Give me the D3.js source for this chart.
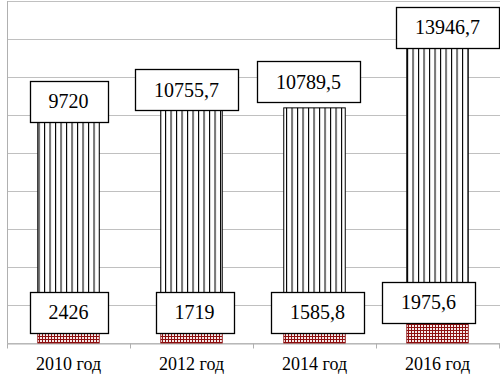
<!DOCTYPE html>
<html>
<head>
<meta charset="utf-8">
<script src="https://cdn.jsdelivr.net/npm/d3@7"></script>
<style>
  html, body { margin: 0; padding: 0; background: #fff; }
  svg { display: block; }
</style>
</head>
<body>
<div id="chart"></div>
<script>
// данные
const categories = ["2010 год", "2012 год", "2014 год", "2016 год"];
const lowerValues = [2426, 1719, 1585.8, 1975.6];
const upperValues = [9720, 10755.7, 10789.5, 13946.7];
const lowerLabels = ["2426", "1719", "1585,8", "1975,6"];
const upperLabels = ["9720", "10755,7", "10789,5", "13946,7"];
const yTicks = d3.range(0, 18001, 2000);

// ручные сдвиги подписей (как в исходной диаграмме)
const upperShift = [[0, -11], [-5, -16], [-6, -26], [10, -13]];
const lowerShift = [[0, 0], [3, 0], [3, 0], [-9, -10]];

const W = 500, H = 375;
const margin = {top: 1, right: 1, bottom: 32, left: 7};

const svg = d3.select("#chart").append("svg")
  .attr("width", W).attr("height", H);

const defs = svg.append("defs");
// вертикальная штриховка
const pv = defs.append("pattern")
  .attr("id", "vlines").attr("patternUnits", "userSpaceOnUse")
  .attr("width", 5.5).attr("height", 10);
pv.append("rect").attr("width", 5.5).attr("height", 10).attr("fill", "#fff");
pv.append("rect").attr("x", 0).attr("width", 1.1).attr("height", 10).attr("fill", "#000");
// красная сетка
const pc = defs.append("pattern")
  .attr("id", "cross").attr("patternUnits", "userSpaceOnUse")
  .attr("width", 3).attr("height", 3);
pc.append("rect").attr("width", 3).attr("height", 3).attr("fill", "#f6eaea");
pc.append("rect").attr("width", 3).attr("height", 1).attr("fill", "#8e1010");
pc.append("rect").attr("width", 1).attr("height", 3).attr("fill", "#8e1010");

const x = d3.scaleBand()
  .domain(categories)
  .range([margin.left, W - margin.right])
  .paddingInner(0.5).paddingOuter(0.25);

const xAxisScale = d3.scaleBand().domain(categories).range([margin.left, W - margin.right]);

const y = d3.scaleLinear()
  .domain([0, 18000])
  .range([H - margin.bottom, margin.top]);

// сетка
svg.append("g")
  .selectAll("line")
  .data(yTicks)
  .join("line")
    .attr("x1", margin.left).attr("x2", W)
    .attr("y1", d => Math.round(y(d)) + 0.5).attr("y2", d => Math.round(y(d)) + 0.5)
    .attr("stroke", "#c0c0c0").attr("stroke-width", 1);

// ось Y
svg.append("line")
  .attr("x1", margin.left + 0.5).attr("x2", margin.left + 0.5)
  .attr("y1", y(18000)).attr("y2", y(0))
  .attr("stroke", "#b0b0b0");

// ось X
const xAxis = svg.append("g")
  .attr("transform", `translate(0,${Math.round(y(0)) + 0.5})`)
  .call(d3.axisBottom(xAxisScale).tickSize(0).tickPadding(14));
xAxis.select(".domain").attr("stroke", "#b0b0b0");
xAxis.selectAll(".tick text")
  .style("font-family", "'Liberation Serif', 'Times New Roman', serif")
  .style("font-size", "18px").attr("fill", "#000");
// засечки между категориями
xAxis.selectAll(".sep")
  .data(categories.map(c => xAxisScale(c)).concat([W - margin.right]))
  .join("line")
    .attr("class", "sep")
    .attr("x1", d => Math.round(d) + 0.5).attr("x2", d => Math.round(d) + 0.5)
    .attr("y1", 0).attr("y2", 5)
    .attr("stroke", "#b0b0b0");

const rows = categories.map((c, i) => ({
  cat: c, lo: lowerValues[i], hi: upperValues[i],
  loLabel: lowerLabels[i], hiLabel: upperLabels[i], i
}));

// нижняя часть
svg.selectAll(".lo-bar")
  .data(rows)
  .join("rect")
    .attr("class", "lo-bar")
    .attr("x", d => x(d.cat)).attr("width", x.bandwidth())
    .attr("y", d => y(d.lo)).attr("height", d => y(0) - y(d.lo))
    .attr("fill", "url(#cross)")
    .attr("stroke", "#8e1010").attr("stroke-width", 0.8);

// верхняя часть
svg.selectAll(".hi-bar")
  .data(rows)
  .join("rect")
    .attr("class", "hi-bar")
    .attr("x", d => x(d.cat)).attr("width", x.bandwidth())
    .attr("y", d => y(d.lo + d.hi)).attr("height", d => y(d.lo) - y(d.lo + d.hi))
    .attr("fill", "url(#vlines)")
    .attr("stroke", "#000").attr("stroke-width", 1);

// подписи данных в рамках
function drawLabels(cls, getText, getCx, getCy) {
  const g = svg.selectAll("." + cls)
    .data(rows)
    .join("g").attr("class", cls);
  g.each(function(d) {
    const gg = d3.select(this);
    const t = gg.append("text")
      .attr("x", getCx(d)).attr("y", getCy(d))
      .attr("text-anchor", "middle").attr("dy", "0.35em")
      .style("font-family", "'Liberation Serif', 'Times New Roman', serif")
      .style("font-size", "20px")
      .attr("fill", "#000")
      .text(getText(d));
    const tw = t.node().getComputedTextLength();
    const bw = Math.round(tw + 38), bh = 41;
    gg.insert("rect", "text")
      .attr("x", Math.round(getCx(d) - bw / 2) + 0.5)
      .attr("y", Math.round(getCy(d) - bh / 2) + 0.5)
      .attr("width", bw).attr("height", bh)
      .attr("fill", "#fff").attr("stroke", "#000").attr("stroke-width", 1.3);
  });
}

drawLabels("hi-label", d => d.hiLabel,
  d => x(d.cat) + x.bandwidth() / 2 + upperShift[d.i][0],
  d => y(d.lo + d.hi) + upperShift[d.i][1]);

drawLabels("lo-label", d => d.loLabel,
  d => x(d.cat) + x.bandwidth() / 2 + lowerShift[d.i][0],
  d => y(0) - 31 + lowerShift[d.i][1]);
</script>
</body>
</html>
